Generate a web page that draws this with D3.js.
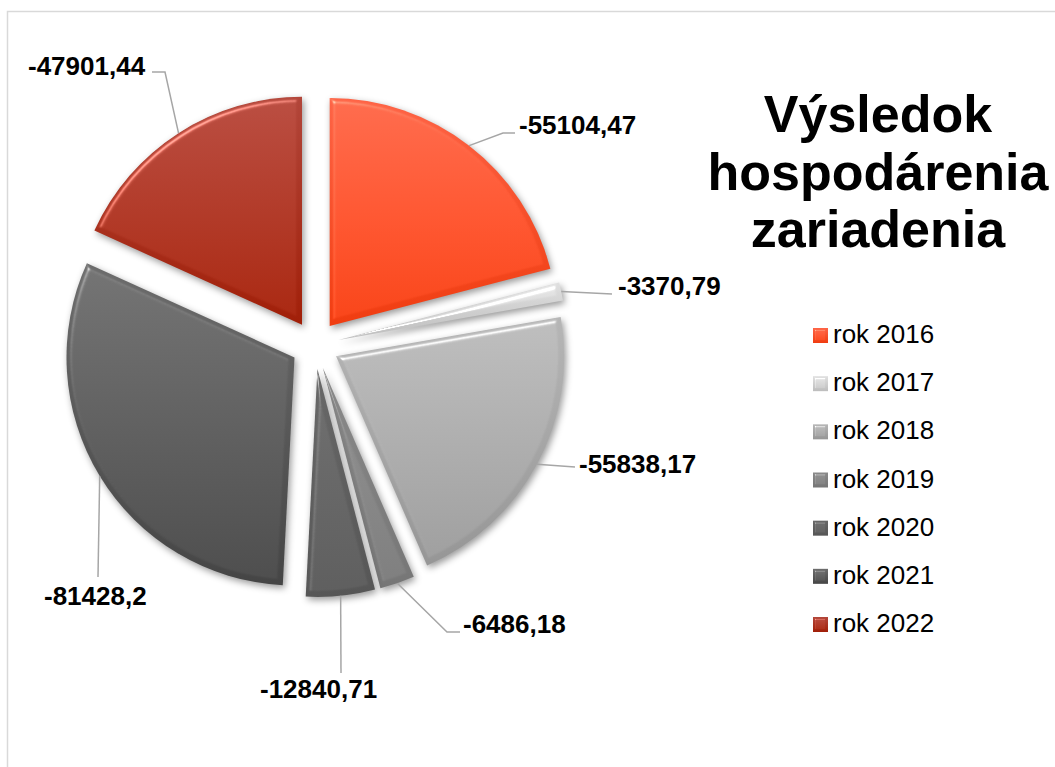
<!DOCTYPE html>
<html>
<head>
<meta charset="utf-8">
<script src="https://cdn.jsdelivr.net/npm/d3@7/dist/d3.min.js"></script>
<style>
  body { margin: 0; background: #fff; }
  svg { display: block; font-family: "Liberation Sans", Arial, sans-serif; }
</style>
</head>
<body>
<svg width="1055" height="767"></svg>
<script>
// data
const years = ["rok 2016", "rok 2017", "rok 2018", "rok 2019", "rok 2020", "rok 2021", "rok 2022"];
const values = [-55104.47, -3370.79, -55838.17, -6486.18, -12840.71, -81428.2, -47901.44];
const titleLines = ["Výsledok", "hospodárenia", "zariadenia"];

// colours (top / bottom of each slice gradient)
const topColors = ["#fd6446", "#e0e0e0", "#b6b6b6", "#8a8a8a", "#686868", "#6c6c6c", "#b2463a"];
const bottomColors = ["#f03c10", "#bdbdbd", "#969696", "#767676", "#565656", "#454545", "#a11f08"];

// label layout: text [x, baseline], leader bend point and end point
const labelPos = [[519, 134], [618, 295], [579, 473], [463, 633], [260, 698], [44, 605], [28, 75]];
const leaderBend = [[503, 133], [612, 294], [575, 467], [447, 632], [341, 673], [98, 577], [165, 72]];
const leaderEnd = [[515, 133], [612, 294], [575, 467], [460, 632], [341, 673], [98, 577], [152, 72]];

const cx = 315, cy = 345, radius = 228, explode = 24;

const svg = d3.select("svg");
const defs = svg.append("defs");

const fmt = d3.formatLocale({decimal: ",", thousands: "", grouping: [3], currency: ["", ""], minus: "-"}).format(".2~f");

years.forEach((y, i) => {
  const g = defs.append("linearGradient").attr("id", "grad" + i)
    .attr("x1", 0).attr("y1", 0).attr("x2", 0).attr("y2", 1);
  g.append("stop").attr("offset", "0%").attr("stop-color", topColors[i]);
  g.append("stop").attr("offset", "100%").attr("stop-color", bottomColors[i]);
});

function makeBevel(id, blur, scale, shadow) {
  const f = defs.append("filter").attr("id", id)
    .attr("x", "-20%").attr("y", "-20%").attr("width", "140%").attr("height", "140%")
    .attr("color-interpolation-filters", "sRGB");
  f.append("feGaussianBlur").attr("in", "SourceAlpha").attr("stdDeviation", blur).attr("result", "blur");
  f.append("feSpecularLighting").attr("in", "blur").attr("surfaceScale", scale)
    .attr("specularConstant", 0.7).attr("specularExponent", 25).attr("lighting-color", "#fff")
    .attr("result", "spec")
    .append("feDistantLight").attr("azimuth", 235).attr("elevation", 40);
  f.append("feComposite").attr("in", "spec").attr("in2", "SourceAlpha").attr("operator", "in").attr("result", "specIn");
  f.append("feComposite").attr("in", "SourceGraphic").attr("in2", "specIn").attr("operator", "arithmetic")
    .attr("k1", 0).attr("k2", 1).attr("k3", 0.6).attr("k4", 0).attr("result", "lit");
  const m = f.append("feMerge");
  if (shadow) {
    f.insert("feGaussianBlur", "feMerge").attr("in", "SourceAlpha").attr("stdDeviation", 3.5).attr("result", "sblur");
    f.insert("feOffset", "feMerge").attr("in", "sblur").attr("dx", 2).attr("dy", 3).attr("result", "soff");
    f.insert("feFlood", "feMerge").attr("flood-color", "#000").attr("flood-opacity", 0.4).attr("result", "flood");
    f.insert("feComposite", "feMerge").attr("in", "flood").attr("in2", "soff").attr("operator", "in").attr("result", "shadow");
    m.append("feMergeNode").attr("in", "shadow");
  }
  m.append("feMergeNode").attr("in", "lit");
}
makeBevel("bevel", 2.5, 4, true);
makeBevel("bevelSmall", 1.2, 3, false);

// frame
svg.append("rect")
  .attr("x", 7.5).attr("y", 11.5).attr("width", 1100).attr("height", 800)
  .attr("fill", "none").attr("stroke", "#d9d9d9").attr("stroke-width", 1.5);

const pie = d3.pie().sort(null).value(d => Math.abs(d));
const arcs = pie(values);
const arc = d3.arc().innerRadius(0).outerRadius(radius);
const midArc = d3.arc().innerRadius(radius).outerRadius(radius);

function offset(d) {
  const a = (d.startAngle + d.endAngle) / 2;
  return [cx + explode * Math.sin(a), cy - explode * Math.cos(a)];
}

const slices = svg.append("g").selectAll("g.slice")
  .data(arcs)
  .enter()
  .append("g")
  .attr("class", "slice")
  .attr("transform", d => "translate(" + offset(d) + ")");

slices.append("path")
  .attr("d", arc)
  .attr("fill", (d, i) => "url(#grad" + i + ")")
  .attr("filter", "url(#bevel)");

// leader lines
svg.append("g").selectAll("polyline")
  .data(arcs)
  .enter()
  .append("polyline")
  .attr("points", (d, i) => {
    const o = offset(d);
    const c = midArc.centroid(d);
    const p0 = [o[0] + c[0], o[1] + c[1]];
    return [p0, leaderBend[i], leaderEnd[i]].map(p => p.join(",")).join(" ");
  })
  .attr("fill", "none")
  .attr("stroke", "#a6a6a6")
  .attr("stroke-width", 1.5);

// value labels
svg.append("g").selectAll("text")
  .data(values)
  .enter()
  .append("text")
  .attr("x", (d, i) => labelPos[i][0])
  .attr("y", (d, i) => labelPos[i][1])
  .attr("font-size", 26)
  .attr("font-weight", "bold")
  .attr("fill", "#000")
  .text(d => fmt(d));

// title
svg.append("text")
  .attr("text-anchor", "middle")
  .attr("font-size", 52)
  .attr("font-weight", "bold")
  .selectAll("tspan")
  .data(titleLines)
  .enter()
  .append("tspan")
  .attr("x", 878)
  .attr("y", (d, i) => 132 + i * 57.5)
  .text(d => d);

// legend
const legendY = d3.scalePoint().domain(years).range([343, 632]);
const legend = svg.append("g").selectAll("g")
  .data(years)
  .enter()
  .append("g")
  .attr("transform", d => "translate(813," + legendY(d) + ")");

legend.append("rect")
  .attr("x", 0).attr("y", -15).attr("width", 15).attr("height", 15)
  .attr("fill", (d, i) => "url(#grad" + i + ")")
  .attr("filter", "url(#bevelSmall)");

legend.append("text")
  .attr("x", 20).attr("y", 0)
  .attr("font-size", 26)
  .attr("fill", "#000")
  .text(d => d);
</script>
</body>
</html>
